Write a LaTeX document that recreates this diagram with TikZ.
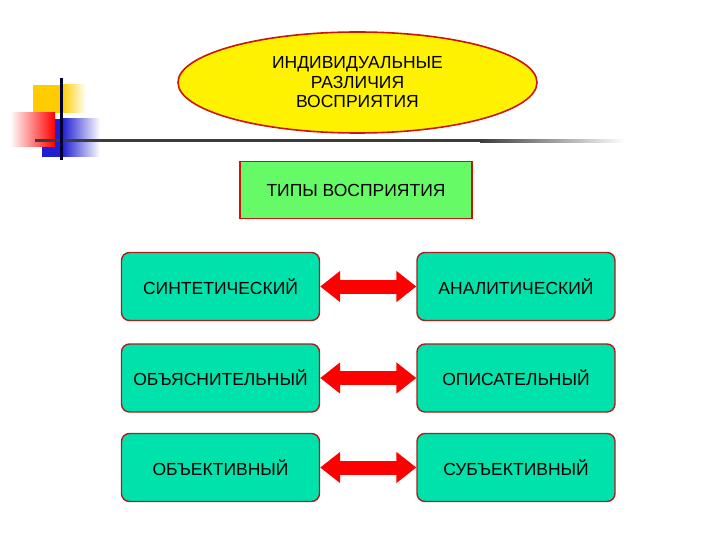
\documentclass[tikz,border=0pt]{standalone}
\usepackage{fontspec}
\setmainfont{Liberation Sans}
\usetikzlibrary{arrows.meta, shapes.geometric}

\definecolor{boxfill}{RGB}{0,226,172}
\definecolor{boxedge}{RGB}{170,30,30}
\definecolor{typefill}{RGB}{102,250,102}
\definecolor{ovaledge}{RGB}{205,20,10}
\definecolor{barline}{RGB}{60,60,60}
\definecolor{decoyellow}{RGB}{255,204,0}
\definecolor{decoblue}{RGB}{30,30,210}

\tikzset{
  typebox/.style={draw=boxedge, line width=1.4pt, fill=boxfill, rounded corners=8pt,
    minimum width=198pt, minimum height=68pt, font=\fontsize{17.5}{20}\selectfont},
  pairarrow/.style={draw=red, line width=14pt,
    {Triangle[length=20pt,width=30pt]}-{Triangle[length=20pt,width=30pt]}}
}

\begin{document}
\begin{tikzpicture}[x=1pt, y=-1pt]
  \useasboundingbox (0,0) rectangle (720,540);
  % corner decoration
  \fill[decoyellow] (33,85) rectangle (62,113);
  \shade[left color=decoyellow, right color=white] (62,85) rectangle (86,113);
  \fill[decoblue] (42,119) rectangle (62,157);
  \shade[left color=decoblue, right color=white] (62,119) rectangle (100,157);
  \shade[left color=white, right color=red] (10,113) rectangle (55,147);
  \fill[barline] (35,139.5) rectangle (480,142.5);
  \shade[left color=barline, right color=white] (480,139.5) rectangle (625,142.5);
  \fill[black!80!blue] (59.5,78) rectangle (62.5,160);

  \node[ellipse, draw=ovaledge, line width=1.6pt, fill=yellow, minimum width=359pt,
    minimum height=101pt, inner sep=0pt, align=center,
    font=\fontsize{17.5}{19.5}\selectfont] (diff) at (357.5,82.5)
    {ИНДИВИДУАЛЬНЫЕ\\РАЗЛИЧИЯ\\ВОСПРИЯТИЯ};
  \node[draw=ovaledge, line width=1.4pt, fill=typefill, minimum width=232pt,
    minimum height=57pt, font=\fontsize{17.5}{20}\selectfont] (types) at (356,190)
    {ТИПЫ ВОСПРИЯТИЯ};

  \node[typebox] (synt) at (220.5,286.5) {СИНТЕТИЧЕСКИЙ};
  \node[typebox] (anal) at (516,286.5) {АНАЛИТИЧЕСКИЙ};
  \node[typebox] (expl) at (220.5,378) {ОБЪЯСНИТЕЛЬНЫЙ};
  \node[typebox] (desc) at (516,378) {ОПИСАТЕЛЬНЫЙ};
  \node[typebox] (obj) at (220.5,467.5) {ОБЪЕКТИВНЫЙ};
  \node[typebox] (subj) at (516,467.5) {СУБЪЕКТИВНЫЙ};

  \draw[pairarrow] (synt) -- (anal);
  \draw[pairarrow] (expl) -- (desc);
  \draw[pairarrow] (obj) -- (subj);
\end{tikzpicture}
\end{document}
